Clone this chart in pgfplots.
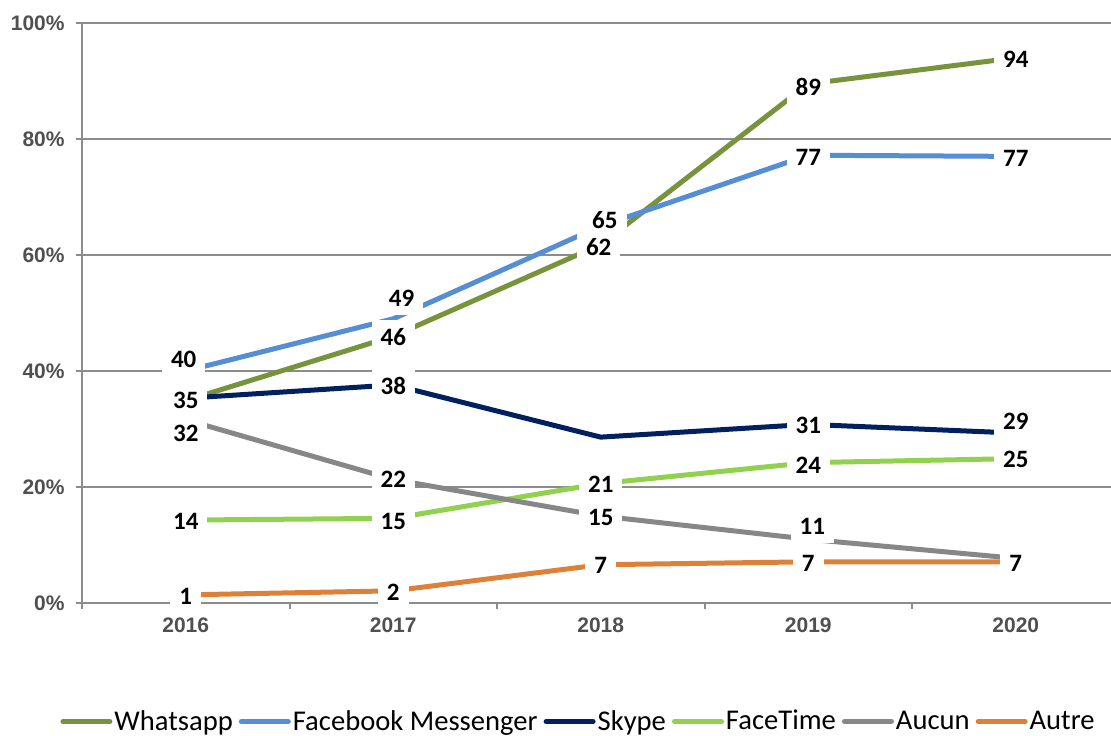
\documentclass[border=0pt]{standalone}
\usepackage{fontspec}
\setmainfont{Carlito}
\newfontfamily\arialfont{Liberation Sans}
\usepackage{pgfplots}
\pgfplotsset{compat=1.18}
\usetikzlibrary{calc}

\definecolor{cWhatsapp}{HTML}{77933C}
\definecolor{cFacebook}{HTML}{558ED5}
\definecolor{cSkype}{HTML}{002060}
\definecolor{cFaceTime}{HTML}{92D050}
\definecolor{cAucun}{HTML}{878787}
\definecolor{cAutre}{HTML}{DD8139}
\definecolor{axisgray}{HTML}{8C8C8C}
\definecolor{ticktext}{HTML}{505050}

\newcommand\lblfont{\fontsize{12.5}{12.5}\selectfont\bfseries}
\newcommand\tickfont{\arialfont\fontsize{10.5}{10.5}\selectfont\bfseries\color{ticktext}}

\begin{document}
\begin{tikzpicture}[
  lab/.style={fill=white, inner xsep=4.5pt, inner ysep=4.3pt, text depth=0pt, font=\lblfont}
]
\begin{axis}[
  scale only axis, width=518.75pt, height=290pt,
  xmin=-0.5, xmax=4.5, ymin=0, ymax=100,
  clip=false,
  axis lines*=left,
  axis line style={axisgray, line width=1pt},
  tick align=outside, major tick length=3pt,
  tick style={axisgray, line width=1pt},
  xtick={-0.5,0.5,...,4.5}, xticklabel=\empty,
  extra x ticks={0,1,2,3,4},
  extra x tick labels={2016,2017,2018,2019,2020},
  extra x tick style={major tick length=0pt, grid=none},
  xticklabel style={font=\tickfont, inner sep=0pt, anchor=north, yshift=-7pt},
  ytick={0,20,...,100},
  yticklabels={0\%,20\%,40\%,60\%,80\%,100\%},
  yticklabel style={font=\tickfont, inner sep=0pt, anchor=east, xshift=-5.5pt},
  ymajorgrids, grid style={axisgray, line width=1pt},
  legend columns=6,
  legend style={at={(-0.0212,-0.2045)}, anchor=west, draw=none, fill=none,
    font=\fontsize{14.3}{14.3}\selectfont, inner sep=0pt,
    nodes={inner xsep=1pt, inner ysep=1pt},
    /tikz/every even column/.append style={column sep=2pt}},
  legend image code/.code={\draw[#1, line width=2.5pt, line cap=round] (0pt,0pt) -- (23.5pt,0pt);},
  every axis plot/.append style={line width=2.5pt, line join=round, no markers},
]
\coordinate (ll) at (rel axis cs:0,0);

\addplot[cWhatsapp] coordinates {(0,34.9) (1,46.0) (2,61.8) (3,89.5) (4,94.0)};
\addlegendentry{Whatsapp}
\addplot[cFacebook] coordinates {(0,40.0) (1,49.0) (2,65.0) (3,77.2) (4,77.0)};
\addlegendentry{Facebook Messenger}
\addplot[cSkype] coordinates {(0,35.3) (1,37.6) (2,28.6) (3,30.8) (4,29.3)};
\addlegendentry{Skype}
\addplot[cFaceTime] coordinates {(0,14.3) (1,14.6) (2,20.6) (3,24.2) (4,24.9)};
\addlegendentry{FaceTime}
\addplot[cAucun] coordinates {(0,31.6) (1,21.3) (2,15.0) (3,11.0) (4,7.7)};
\addlegendentry{Aucun}
\addplot[cAutre] coordinates {(0,1.4) (1,2.1) (2,6.6) (3,7.1) (4,7.1)};
\addlegendentry{Autre}

% data labels
% Whatsapp
\node[lab] at (axis cs:0,35.0) {35};
\node[lab] at (axis cs:1,45.9) {46};
\node[lab] at (axis cs:1.99,61.4) {62};
\node[lab] at (axis cs:3,89.0) {89};
\node[lab] at (axis cs:4,93.8) {94};
% Facebook Messenger
\node[lab] at (axis cs:-0.01,42.1) {40};
\node[lab] at (axis cs:1.04,52.6) {49};
\node[lab] at (axis cs:2.02,66.0) {65};
\node[lab] at (axis cs:3,76.9) {77};
\node[lab] at (axis cs:4,76.7) {77};
% Skype
\node[lab] at (axis cs:1,37.4) {38};
\node[lab] at (axis cs:3,30.7) {31};
\node[lab] at (axis cs:4,31.3) {29};
% FaceTime
\node[lab] at (axis cs:0,14.0) {14};
\node[lab] at (axis cs:1,14.1) {15};
\node[lab] at (axis cs:2,20.5) {21};
\node[lab] at (axis cs:3,23.8) {24};
\node[lab] at (axis cs:4,24.8) {25};
% Aucun
\node[lab] at (axis cs:0,29.3) {32};
\node[lab] at (axis cs:1,21.3) {22};
\node[lab] at (axis cs:2,14.8) {15};
\node[lab] at (axis cs:3.02,13.2) {11};
% Autre
\node[lab] at (axis cs:0,1.1) {1};
\node[lab] at (axis cs:1,1.8) {2};
\node[lab] at (axis cs:2,6.4) {7};
\node[lab] at (axis cs:3,6.8) {7};
\node[lab] at (axis cs:4,6.8) {7};
\end{axis}
\pgfresetboundingbox
\useasboundingbox ($(ll)+(-41pt,-66pt)$) rectangle ($(ll)+(514.5pt,301.5pt)$);
\end{tikzpicture}
\end{document}
